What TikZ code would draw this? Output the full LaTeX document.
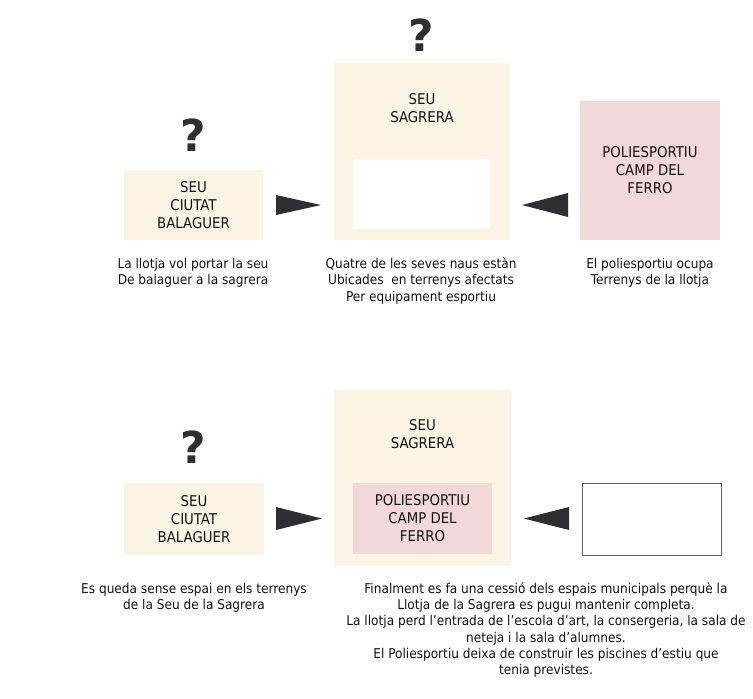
\documentclass[tikz,border=0pt]{standalone}
\usepackage{fontspec}
\usetikzlibrary{calc}
\setmainfont{DejaVu Sans Condensed}
\newfontfamily\qfont{DejaVu Sans Bold}
\definecolor{beige}{HTML}{FBF3E4}
\definecolor{pinkbox}{HTML}{F2D8D9}
\definecolor{arrowgray}{HTML}{2F2F33}
\definecolor{txt}{HTML}{111111}
\begin{document}
\begin{tikzpicture}[x=1pt,y=-1pt,
  box/.style={rectangle,inner sep=0pt,outer sep=0pt},
  boxtext/.style={align=center,font=\fontsize{14.8}{18}\selectfont,text=txt},
  caption/.style={align=center,font=\fontsize{13.5}{16.3}\selectfont,text=txt},
  qmark/.style={font=\qfont\fontsize{44}{44}\selectfont,text=arrowgray,inner sep=0pt},
  tri/.style={fill=arrowgray}]
\useasboundingbox[fill=white] (0,0) rectangle (753,699);
% ---------- top row ----------
\node[box,fill=beige,minimum width=139pt,minimum height=70pt] (bal1) at (193.5,205) {};
\node[boxtext] (bal1t) at (bal1.center) {SEU\\CIUTAT\\BALAGUER};
\node[qmark] (q1) at (193,135) {?};
\node[box,fill=beige,minimum width=176pt,minimum height=177pt] (sag1) at (422,151.5) {};
\node[boxtext] (sag1t) at (422,108) {SEU\\SAGRERA};
\node[box,fill=white,minimum width=137pt,minimum height=70pt] (in1) at (421.5,194) {};
\node[qmark] (q2) at (421,35) {?};
\node[box,fill=pinkbox,minimum width=140pt,minimum height=139pt] (pol1) at (650,170.5) {};
\node[boxtext] (pol1t) at (pol1.center) {POLIESPORTIU\\CAMP DEL\\FERRO};
\coordinate (a1b) at (276,205);
\coordinate (a1t) at (321,205);
\fill[tri] ($(a1b)+(0,-10)$) -- (a1t) -- ($(a1b)+(0,10)$) -- cycle;
\coordinate (a2b) at (568,205);
\coordinate (a2t) at (522,205);
\fill[tri] ($(a2b)+(0,-12)$) -- (a2t) -- ($(a2b)+(0,12)$) -- cycle;
\node[caption] (c1) at (193,273) {La llotja vol portar la seu\\De balaguer a la sagrera};
\node[caption] (c2) at (421,281) {Quatre de les seves naus estàn\\Ubicades\ \ en terrenys afectats\\Per equipament esportiu};
\node[caption] (c3) at (650,273) {El poliesportiu ocupa\\Terrenys de la llotja};
% ---------- bottom row ----------
\node[box,fill=beige,minimum width=140pt,minimum height=72pt] (bal2) at (194,519) {};
\node[boxtext] (bal2t) at (bal2.center) {SEU\\CIUTAT\\BALAGUER};
\node[qmark] (q3) at (193,447) {?};
\node[box,fill=beige,minimum width=177pt,minimum height=176pt] (sag2) at (422.5,478) {};
\node[boxtext] (sag2t) at (422.5,434) {SEU\\SAGRERA};
\node[box,fill=pinkbox,minimum width=139pt,minimum height=71pt] (in2) at (422.5,518.5) {};
\node[boxtext] (in2t) at (in2.center) {POLIESPORTIU\\CAMP DEL\\FERRO};
\node[box,draw=black!60,line width=0.8pt,fill=white,minimum width=139pt,minimum height=72pt] (emp) at (651.5,519) {};
\coordinate (a3b) at (276,518.5);
\coordinate (a3t) at (322,518.5);
\fill[tri] ($(a3b)+(0,-11.5)$) -- (a3t) -- ($(a3b)+(0,11.5)$) -- cycle;
\coordinate (a4b) at (569,518.5);
\coordinate (a4t) at (524,518.5);
\fill[tri] ($(a4b)+(0,-11.5)$) -- (a4t) -- ($(a4b)+(0,11.5)$) -- cycle;
\node[caption] (c4) at (194,597.5) {Es queda sense espai en els terrenys\\de la Seu de la Sagrera};
\node[caption] (c5) at (546,630) {Finalment es fa una cessió dels espais municipals perquè la\\Llotja de la Sagrera es pugui mantenir completa.\\La llotja perd l’entrada de l’escola d’art, la consergeria, la sala de\\neteja i la sala d’alumnes.\\El Poliesportiu deixa de construir les piscines d’estiu que\\tenia previstes.};
\end{tikzpicture}
\end{document}
